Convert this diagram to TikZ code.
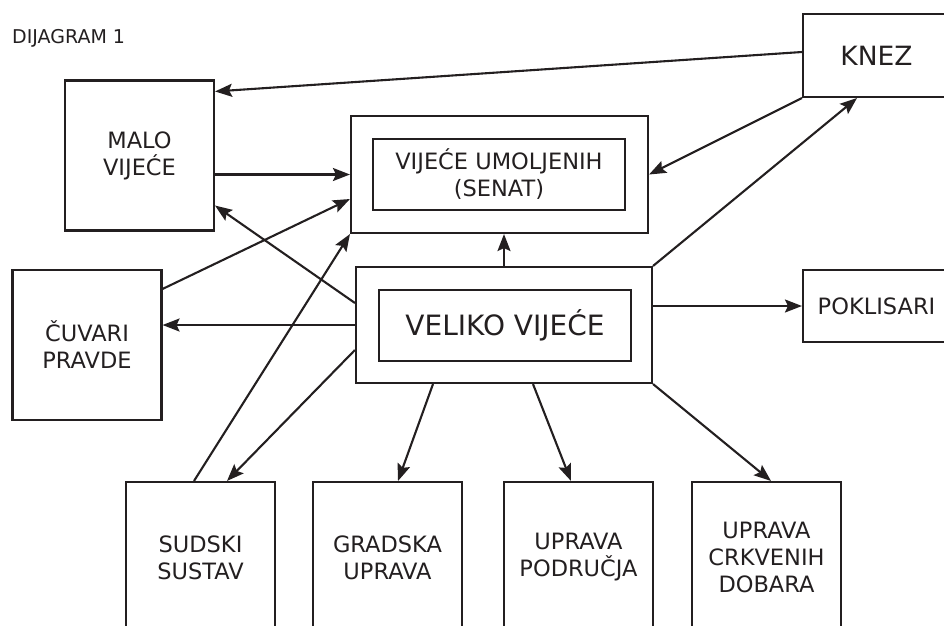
\documentclass[tikz,border=0pt]{standalone}
\usepackage{fontspec}
\setmainfont{DejaVu Sans}
\usetikzlibrary{arrows.meta}
\definecolor{ink}{HTML}{231F20}
\begin{document}
\begin{tikzpicture}[x=1pt,y=-1pt,
  box/.style={draw=ink,line width=2.1pt,text=ink,align=center,inner sep=0pt,
    font=\fontsize{22.5}{27}\selectfont},
  sqbox/.style={box,minimum width=149pt,minimum height=150pt},
  arr/.style={draw=ink,line width=2.1pt,-{Stealth[length=17pt,width=13pt,inset=3pt]}}]
\clip (0,0) rectangle (944,625);
\node[anchor=base west,inner sep=0pt,text=ink,font=\fontsize{19}{22}\selectfont] (title) at (12,43) {DIJAGRAM 1};
\node[sqbox] (malo) at (139.5,155.5) {MALO\\VIJEĆE};
\node[sqbox] (cuvari) at (87,345) {ČUVARI\\PRAVDE};
\node[box,minimum width=297pt,minimum height=117pt] (senat) at (499.5,174.5) {};
\node[box,minimum width=252pt,minimum height=71pt] (senatin) at (499,174.5) {VIJEĆE UMOLJENIH\\(SENAT)};
\node[box,minimum width=296pt,minimum height=116pt] (veliko) at (504,325) {};
\node[box,minimum width=252pt,minimum height=71pt,font=\fontsize{28}{32}\selectfont] (velikoin) at (505,325.5) {VELIKO VIJEĆE};
\node[box,minimum width=147pt,minimum height=83pt,font=\fontsize{26.5}{30}\selectfont] (knez) at (876.5,55.5) {KNEZ};
\node[box,minimum width=147pt,minimum height=72pt] (poklisari) at (876.5,306) {POKLISARI};
\node[sqbox,minimum height=151pt] (sudski) at (200.5,557.5) {SUDSKI\\SUSTAV};
\node[sqbox,minimum height=151pt] (gradska) at (387.5,557.5) {GRADSKA\\UPRAVA};
\node[sqbox,minimum height=151pt] (podrucja) at (578.5,557.5) {UPRAVA\\PODRUČJA};
\node[sqbox,minimum height=151pt] (crkva) at (766.5,557.5) {UPRAVA\\CRKVENIH\\DOBARA};
\draw[arr] ([yshift=3.5pt]knez.west) -- ([yshift=-12pt]malo.north east);
\draw[arr] (malo.east |- senat.west) -- (senat.west);
\draw[arr] ([yshift=-20pt]cuvari.north east) -- ([yshift=-24.5pt]senat.west);
\draw[arr] ([yshift=22pt]veliko.west) -- ([yshift=26pt]malo.south east);
\draw[arr] (veliko.west) -- (veliko.west -| cuvari.east);
\draw[arr] ([yshift=-25pt]veliko.west) -- ([xshift=26.5pt]sudski.north);
\draw[arr] ([xshift=-6.5pt]sudski.north) -- (senat.south west);
\draw[arr] (veliko.north) -- (veliko.north |- senat.south);
\draw[arr] (knez.south west) -- (senat.east);
\draw[arr] (veliko.north east) -- ([xshift=-19.5pt]knez.south);
\draw[arr] (poklisari.west -| veliko.east) -- (poklisari.west);
\draw[arr] ([xshift=-71pt]veliko.south) -- ([xshift=10.5pt]gradska.north);
\draw[arr] ([xshift=29pt]veliko.south) -- ([xshift=-7.5pt]podrucja.north);
\draw[arr] (veliko.south east) -- ([xshift=4.5pt]crkva.north);
\end{tikzpicture}
\end{document}
